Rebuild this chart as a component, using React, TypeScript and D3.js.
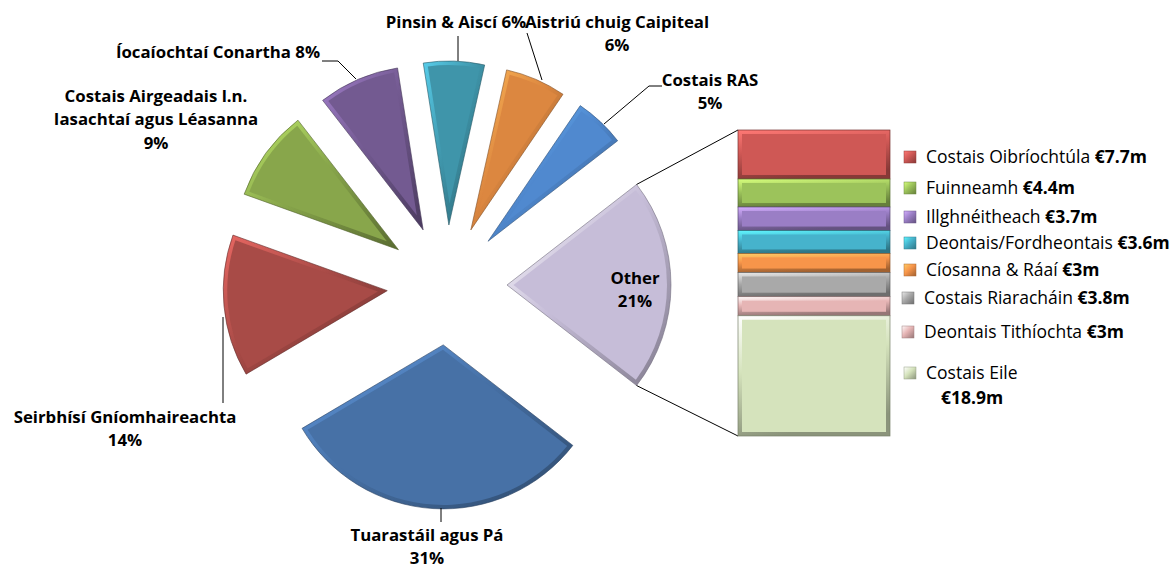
import React, { useEffect, useRef } from "react";
import * as d3 from "d3";

// pie slices (percent), clockwise starting with the "Other" wedge on the right
const pieNames = [
  "Other",
  "Tuarastáil agus Pá",
  "Seirbhísí Gníomhaireachta",
  "Costais Airgeadais l.n. Iasachtaí agus Léasanna",
  "Íocaíochtaí Conartha",
  "Pinsin & Aiscí",
  "Aistriú chuig Caipiteal",
  "Costais RAS",
];
const pieValues = [21, 31, 14, 9, 8, 6, 6, 5];
const pieColors = ["#c6bdd8", "#4771a6", "#a84b47", "#88a64b", "#735a91", "#3f95aa", "#dc8740", "#5089cf"];

// breakdown of "Other" (€m), top to bottom
const barNames = [
  "Costais Oibríochtúla",
  "Fuinneamh",
  "Illghnéitheach",
  "Deontais/Fordheontais",
  "Cíosanna & Ráaí",
  "Costais Riaracháin",
  "Deontais Tithíochta",
  "Costais Eile",
];
const barValues = [7.7, 4.4, 3.7, 3.6, 3, 3.8, 3, 18.9];
const barLabels = ["€7.7m", "€4.4m", "€3.7m", "€3.6m", "€3m", "€3.8m", "€3m", "€18.9m"];
const barColors = ["#cf5855", "#9cc35b", "#9a7ec5", "#46b3cc", "#f7954a", "#a9a9a9", "#e6b5b5", "#d5e3bc"];

const W = 1175;
const H = 569;
const font = "'Open Sans', sans-serif";

const App = () => {
  const ref = useRef<SVGSVGElement>(null);

  useEffect(() => {
    const svg = d3.select(ref.current);
    svg.selectAll("*").remove();
    const defs = svg.append("defs");

    const cx = 447, cy = 285, r = 164, explode = 60, bev = 4;

    const grad = (id: string, c: string, dir: [number, number, number, number]) => {
      const g = defs
        .append("linearGradient")
        .attr("id", id)
        .attr("x1", dir[0]).attr("y1", dir[1]).attr("x2", dir[2]).attr("y2", dir[3]);
      g.append("stop").attr("offset", "0%").attr("stop-color", d3.color(c)!.brighter(0.9).formatHex());
      g.append("stop").attr("offset", "45%").attr("stop-color", c);
      g.append("stop").attr("offset", "100%").attr("stop-color", d3.color(c)!.darker(1.2).formatHex());
    };

    const pie = d3
      .pie<number>()
      .sort(null)
      .value((d) => d)
      .startAngle(Math.PI / 2 - (pieValues[0] / 100) * Math.PI)
      .endAngle(Math.PI / 2 - (pieValues[0] / 100) * Math.PI + 2 * Math.PI);
    const arcs = pie(pieValues);
    const arc = d3.arc<d3.PieArcDatum<number>>().innerRadius(0).outerRadius(r);

    const dir = (a: number) => [Math.sin(a), -Math.cos(a)];

    // inner face of a wedge, inset by d on every edge
    const insetWedge = (a0: number, a1: number, d: number) => {
      const h = (a1 - a0) / 2;
      const m = (a0 + a1) / 2;
      const k = d / Math.sin(h);
      const R = r - d;
      if (k > R - 4) return null;
      const p = dir(m).map((v) => v * k);
      const hit = (a: number) => {
        const u = dir(a);
        const pu = p[0] * u[0] + p[1] * u[1];
        const pp = p[0] * p[0] + p[1] * p[1];
        const t = -pu + Math.sqrt(pu * pu - pp + R * R);
        return [p[0] + t * u[0], p[1] + t * u[1]];
      };
      const e0 = hit(a0 + 0.0001);
      const e1 = hit(a1 - 0.0001);
      return `M${p[0]},${p[1]}L${e0[0]},${e0[1]}A${R},${R} 0 0 1 ${e1[0]},${e1[1]}Z`;
    };

    arcs.forEach((a, i) => {
      const m = (a.startAngle + a.endAngle) / 2;
      const [ux, uy] = dir(m);
      const g = svg.append("g").attr("transform", `translate(${cx + ux * explode},${cy + uy * explode})`);
      grad(`pg${i}`, pieColors[i], [0, 0, 1, 1]);
      g.append("path")
        .attr("d", arc(a)!)
        .attr("fill", `url(#pg${i})`)
        .attr("stroke", d3.color(pieColors[i])!.darker(1.5).formatHex())
        .attr("stroke-width", 0.6);
      const inner = insetWedge(a.startAngle, a.endAngle, bev);
      if (inner) g.append("path").attr("d", inner).attr("fill", pieColors[i]);
    });

    // apex of "Other" wedge, used for connector lines
    const oa = arcs[0];
    const om = (oa.startAngle + oa.endAngle) / 2;
    const ox = cx + dir(om)[0] * explode, oy = cy + dir(om)[1] * explode;
    const topC = [ox + dir(oa.startAngle)[0] * r, oy + dir(oa.startAngle)[1] * r];
    const botC = [ox + dir(oa.endAngle)[0] * r, oy + dir(oa.endAngle)[1] * r];

    // bar of the "Other" breakdown
    const bx = 738, bw = 152, bTop = 130, bBot = 436;
    const y = d3.scaleLinear().domain([0, d3.sum(barValues)]).range([bTop, bBot]);
    const cum = barValues.map((_, i) => d3.sum(barValues.slice(0, i)));

    svg.append("line")
      .attr("x1", topC[0]).attr("y1", topC[1]).attr("x2", bx).attr("y2", bTop)
      .attr("stroke", "#000").attr("stroke-width", 1);
    svg.append("line")
      .attr("x1", botC[0]).attr("y1", botC[1]).attr("x2", bx).attr("y2", bBot)
      .attr("stroke", "#000").attr("stroke-width", 1);

    barValues.forEach((v, i) => {
      const y0 = y(cum[i]);
      const h = y(cum[i] + v) - y0;
      grad(`bg${i}`, barColors[i], [0, 0, 0.25, 1]);
      svg.append("rect")
        .attr("x", bx).attr("y", y0).attr("width", bw).attr("height", h)
        .attr("fill", `url(#bg${i})`)
        .attr("stroke", d3.color(barColors[i])!.darker(1.6).formatHex())
        .attr("stroke-width", 0.7);
      const ins = Math.min(4, h / 4);
      svg.append("rect")
        .attr("x", bx + ins).attr("y", y0 + ins).attr("width", bw - 2 * ins).attr("height", h - 2 * ins)
        .attr("fill", barColors[i]);
    });

    // legend
    const legY = [157, 188, 217, 243, 270, 298, 332, 373];
    const legX = [910, 910, 910, 910, 910, 908, 908, 910];
    barNames.forEach((n, i) => {
      grad(`lg${i}`, barColors[i], [0, 0, 1, 1]);
      svg.append("rect")
        .attr("x", legX[i] - 6).attr("y", legY[i] - 6).attr("width", 12).attr("height", 12)
        .attr("fill", `url(#lg${i})`)
        .attr("stroke", d3.color(barColors[i])!.darker(1).formatHex())
        .attr("stroke-width", 0.5);
      const t = svg.append("text")
        .attr("x", legX[i] + 16).attr("y", legY[i])
        .attr("dy", "0.35em")
        .attr("font-family", font).attr("font-size", 17.5).attr("fill", "#000");
      t.append("tspan").text(n);
      if (i < barNames.length - 1) {
        t.append("tspan").attr("font-weight", 700).text(" " + barLabels[i]);
      } else {
        svg.append("text")
          .attr("x", 972).attr("y", 398).attr("dy", "0.35em")
          .attr("text-anchor", "middle")
          .attr("font-family", font).attr("font-size", 17.5).attr("font-weight", 700)
          .text(barLabels[i]);
      }
    });

    // pie labels
    const label = (lines: string[], x: number, y0: number, anchor = "middle") => {
      const t = svg.append("text")
        .attr("font-family", font).attr("font-size", 16.8).attr("font-weight", 700)
        .attr("fill", "#000").attr("text-anchor", anchor);
      lines.forEach((l, j) => t.append("tspan").attr("x", x).attr("y", y0 + j * 23.5).attr("dy", "0.35em").text(l));
    };
    const pct = pieValues.map((v) => `${v}%`);
    label([pieNames[0], pct[0]], 635, 278);
    label([pieNames[1], pct[1]], 427, 535);
    label(["Seirbhísí Gníomhaireachta", pct[2]], 125, 417);
    label(["Costais Airgeadais l.n.", "Iasachtaí agus Léasanna", pct[3]], 156, 96);
    label([`${pieNames[4]} ${pct[4]}`], 218, 52);
    label([`${pieNames[5]}  ${pct[5]}`], 456, 22);
    label([pieNames[6], pct[6]], 617, 22);
    label([pieNames[7], pct[7]], 710, 80);

    const leaders: number[][][] = [
      [[441, 508], [441, 522]],
      [[223, 317], [223, 403]],
      [[322, 61], [338, 61], [356, 79]],
      [[458, 36], [458, 61]],
      [[527, 33], [542, 80]],
      [[662, 86], [649, 86], [604, 124]],
    ];
    leaders.forEach((pts) => {
      svg.append("path")
        .attr("d", d3.line()(pts as [number, number][])!)
        .attr("fill", "none").attr("stroke", "#000").attr("stroke-width", 1);
    });
  }, []);

  return (
    <div style={{ position: "fixed", left: 0, top: 0, width: W, height: H, overflow: "hidden", background: "#fff" }}>
      <svg ref={ref} width={W} height={H} style={{ display: "block" }} />
    </div>
  );
};

export default App;
